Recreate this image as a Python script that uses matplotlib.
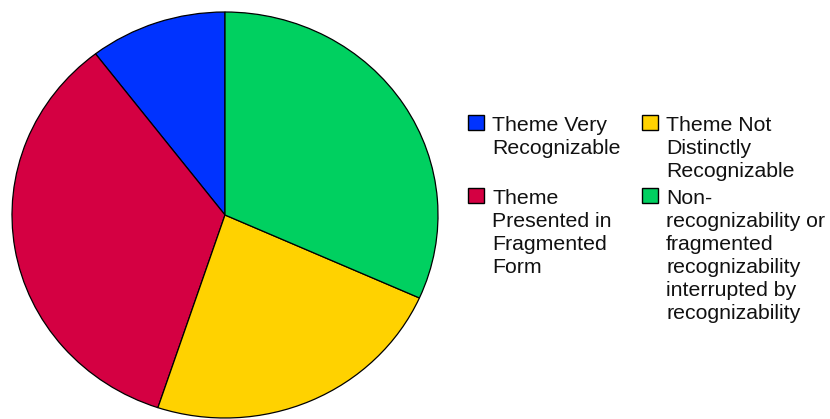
import matplotlib
matplotlib.use("Agg")
import matplotlib.pyplot as plt
from matplotlib.patches import Rectangle

# Slice shares (percent), counterclockwise from 12 o'clock
labels = [
    "Theme Very\nRecognizable",
    "Theme\nPresented in\nFragmented\nForm",
    "Theme Not\nDistinctly\nRecognizable",
    "Non-\nrecognizability or\nfragmented\nrecognizability\ninterrupted by\nrecognizability",
]
shares = [10.4, 34.5, 23.4, 31.7]
colors = ["#0033ff", "#d40042", "#ffd200", "#00d060"]

W, H = 830, 419
fig = plt.figure(figsize=(W / 100, H / 100), dpi=100)
ax = fig.add_axes([0, 0, 1, 1])

ax.pie(
    shares,
    colors=colors,
    startangle=90,
    counterclock=True,
    wedgeprops=dict(edgecolor="black", linewidth=0.9),
)

# pie centre at pixel (225, 215 from top), radii 213 x 203 px
cx, cy, rx, ry = 225, 215, 213, 203
ax.set_aspect("auto")
ax.set_xlim(-cx / rx, (W - cx) / rx)
ax.set_ylim(-(H - cy) / ry, cy / ry)
ax.axis("off")

# Legend: two columns, rows aligned as a grid
col_x = [468, 642]
row_base = [131, 204]
pitch = 23
for i, (lab, col) in enumerate(zip(labels, colors)):
    c, r = i // 2, i % 2
    x0 = col_x[c]
    y0 = row_base[r]
    fig.add_artist(Rectangle((x0 / W, 1 - (y0 - 1) / H), 16 / W, 15 / H,
                             transform=fig.transFigure, facecolor=col,
                             edgecolor="black", linewidth=1.0))
    for k, line in enumerate(lab.split("\n")):
        fig.text((x0 + 24) / W, 1 - (y0 + k * pitch) / H, line,
                 fontsize=15.3, family="Liberation Sans", color="#111111",
                 ha="left", va="baseline")

fig.savefig("out.png", dpi=100)
